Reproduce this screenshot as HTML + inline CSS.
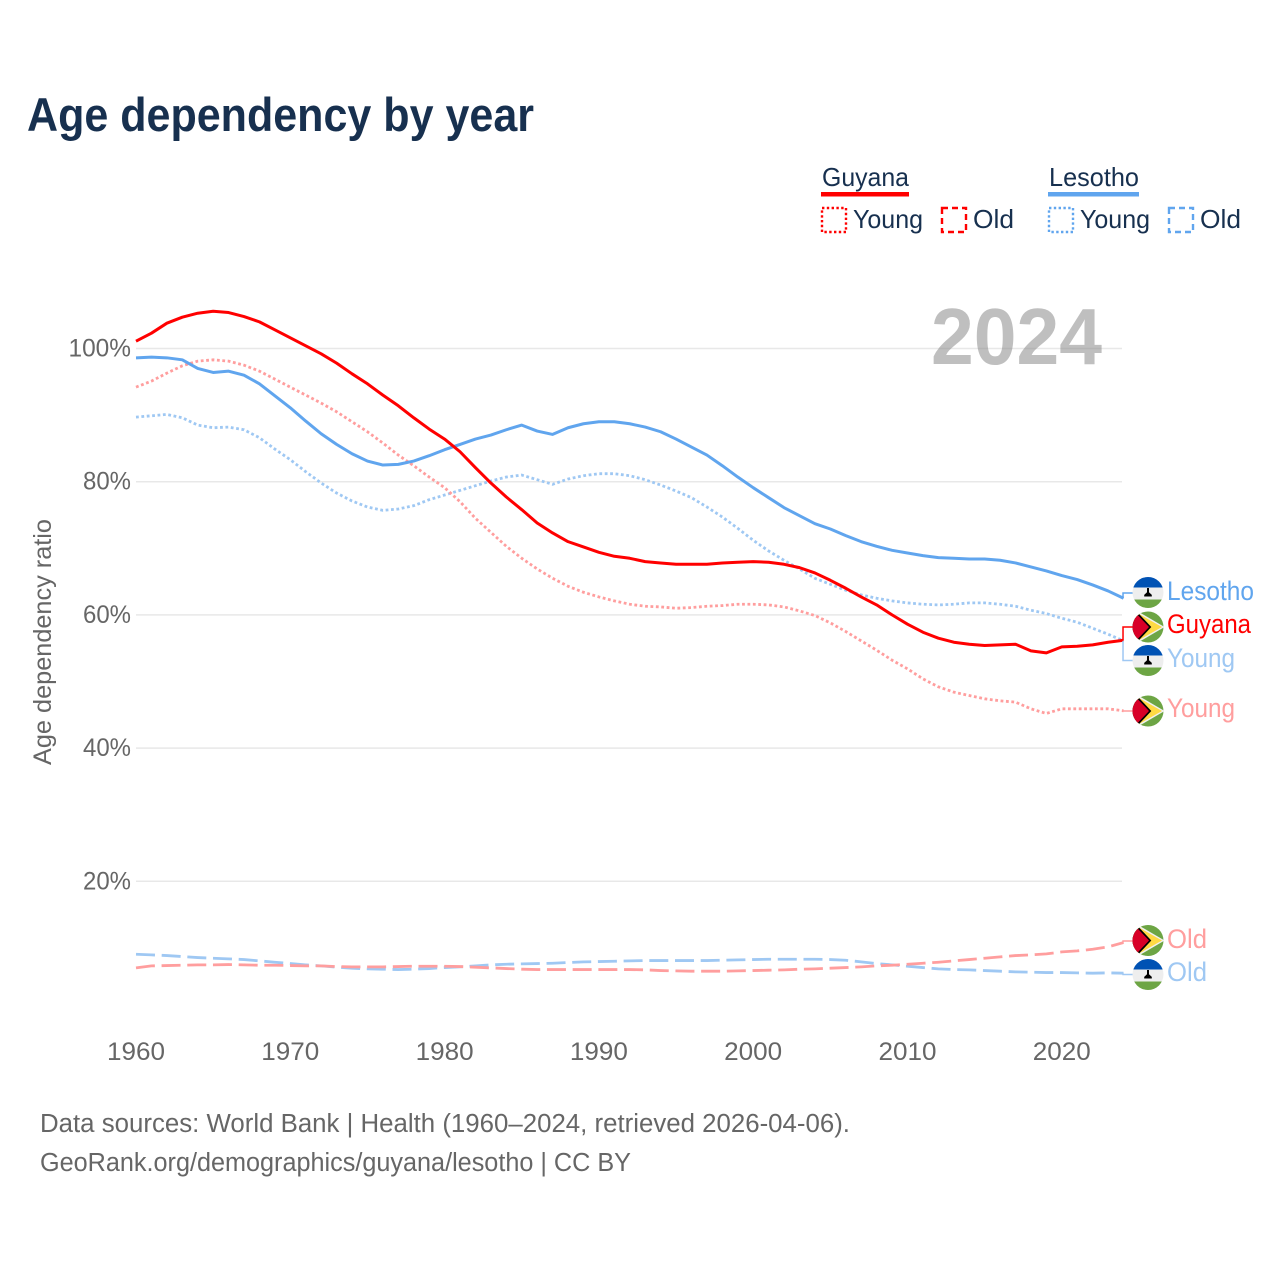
<!DOCTYPE html>
<html lang="en">
<head>
<meta charset="utf-8">
<title>Age dependency by year</title>
<style>
html,body{margin:0;padding:0;background:#fff;}
svg{display:block;font-family:"Liberation Sans",sans-serif;}
</style>
</head>
<body>
<svg id="chart" xmlns="http://www.w3.org/2000/svg" width="1280" height="1280" viewBox="0 0 1280 1280">
<defs>
<clipPath id="flag-clip"><circle cx="0" cy="0" r="15.5"/></clipPath>
<g id="flag-lesotho" clip-path="url(#flag-clip)">
<rect x="-16" y="-16" width="32" height="32" fill="#eeeeee"/>
<rect x="-16" y="-16" width="32" height="11" fill="#0052b4"/>
<rect x="-16" y="7" width="32" height="9" fill="#6da544"/>
<path d="M-1 -4.5h2v4.3l2.8 2.6v1.6h-7.6v-1.6l2.8-2.6z" fill="#000"/>
</g>
<g id="flag-guyana" clip-path="url(#flag-clip)">
<rect x="-16" y="-16" width="32" height="32" fill="#6da544"/>
<path d="M-16 -19L16.5 0L-16 19z" fill="#f0f0f0"/>
<path d="M-16 -17L14 0L-16 17z" fill="#ffda44"/>
<path d="M-16 -20.5L3.3 0L-16 20.5z" fill="#000"/>
<path d="M-16 -18L1 0L-16 18z" fill="#d80027"/>
</g>
</defs>

<text x="27" y="131" font-size="47.5" font-weight="700" fill="#17304f" textLength="507" lengthAdjust="spacingAndGlyphs">Age dependency by year</text>

<g font-size="26" fill="#17304f">
<text x="822" y="186" textLength="87" lengthAdjust="spacingAndGlyphs">Guyana</text>
<rect x="821" y="192" width="88" height="4.5" fill="#ff0000"/>
<text x="1049" y="186" textLength="90" lengthAdjust="spacingAndGlyphs">Lesotho</text>
<rect x="1048" y="192" width="91" height="4.5" fill="#60a5ee"/>
<rect x="822" y="208" width="24" height="24" fill="none" stroke="#ff0000" stroke-width="2.4" stroke-dasharray="2.4,2.4"/>
<text x="853" y="228" textLength="70" lengthAdjust="spacingAndGlyphs">Young</text>
<rect x="942" y="208" width="24" height="24" fill="none" stroke="#ff0000" stroke-width="2.4" stroke-dasharray="6,4"/>
<text x="973" y="228" textLength="41" lengthAdjust="spacingAndGlyphs">Old</text>
<rect x="1049" y="208" width="24" height="24" fill="none" stroke="#60a5ee" stroke-width="2.4" stroke-dasharray="2.4,2.4"/>
<text x="1080" y="228" textLength="70" lengthAdjust="spacingAndGlyphs">Young</text>
<rect x="1169" y="208" width="24" height="24" fill="none" stroke="#60a5ee" stroke-width="2.4" stroke-dasharray="6,4"/>
<text x="1200" y="228" textLength="41" lengthAdjust="spacingAndGlyphs">Old</text>
</g>

<g id="grid"></g>
<g id="yticks" font-size="25" fill="#666666"></g>
<g id="xticks" font-size="25" fill="#666666"></g>

<text transform="translate(51,765) rotate(-90)" font-size="25" fill="#666666" textLength="246" lengthAdjust="spacingAndGlyphs">Age dependency ratio</text>
<text x="931" y="364" font-size="80" font-weight="700" fill="#808080" fill-opacity="0.5" textLength="171" lengthAdjust="spacingAndGlyphs">2024</text>

<g id="series"></g>
<g id="connectors"></g>

<g font-size="26.5">
<use href="#flag-lesotho" x="1148" y="592.5"/>
<text x="1167" y="600" fill="#60a5ee" textLength="87" lengthAdjust="spacingAndGlyphs">Lesotho</text>
<use href="#flag-guyana" x="1148" y="627"/>
<text x="1167" y="633" fill="#ff0000" textLength="84" lengthAdjust="spacingAndGlyphs">Guyana</text>
<use href="#flag-lesotho" x="1148" y="660.5"/>
<text x="1167" y="667" fill="#9fc8f3" textLength="68" lengthAdjust="spacingAndGlyphs">Young</text>
<use href="#flag-guyana" x="1148" y="711"/>
<text x="1167" y="717" fill="#ff9e9e" textLength="68" lengthAdjust="spacingAndGlyphs">Young</text>
<use href="#flag-guyana" x="1148" y="940.5"/>
<text x="1167" y="948" fill="#ff9e9e" textLength="40" lengthAdjust="spacingAndGlyphs">Old</text>
<use href="#flag-lesotho" x="1148" y="974.5"/>
<text x="1167" y="981" fill="#9fc8f3" textLength="40" lengthAdjust="spacingAndGlyphs">Old</text>
</g>

<g font-size="25.5" fill="#666666">
<text x="40" y="1132" textLength="810" lengthAdjust="spacingAndGlyphs">Data sources: World Bank | Health (1960–2024, retrieved 2026-04-06).</text>
<text x="40" y="1171" textLength="591" lengthAdjust="spacingAndGlyphs">GeoRank.org/demographics/guyana/lesotho | CC BY</text>
</g>
</svg>

<script>
const startYear = 1960;
const xTickYears = [1960, 1970, 1980, 1990, 2000, 2010, 2020];
const yTickValues = [100, 80, 60, 40, 20];

const guyanaTotal = [101.1,102.3,103.8,104.7,105.3,105.6,105.4,104.8,104.0,102.8,101.6,100.4,99.2,97.8,96.2,94.7,93.0,91.4,89.6,87.9,86.4,84.5,82.1,79.8,77.7,75.8,73.8,72.3,71.0,70.2,69.4,68.8,68.5,68.0,67.8,67.6,67.6,67.6,67.8,67.9,68.0,67.9,67.6,67.1,66.3,65.2,64.0,62.7,61.5,60.0,58.6,57.4,56.5,55.9,55.6,55.4,55.5,55.6,54.6,54.3,55.2,55.3,55.5,55.9,56.2];
const lesothoTotal = [98.6,98.7,98.6,98.3,97.0,96.4,96.6,96.0,94.7,92.9,91.1,89.1,87.2,85.6,84.2,83.1,82.5,82.6,83.1,83.9,84.8,85.6,86.4,87.0,87.8,88.5,87.6,87.1,88.1,88.7,89.0,89.0,88.7,88.2,87.5,86.4,85.2,84.0,82.4,80.7,79.1,77.6,76.1,74.9,73.7,72.9,71.9,71.0,70.3,69.7,69.3,68.9,68.6,68.5,68.4,68.4,68.2,67.8,67.2,66.6,65.9,65.3,64.5,63.6,62.5];
const guyanaYoung = [94.2,95.1,96.3,97.4,98.1,98.3,98.1,97.5,96.6,95.4,94.2,93.0,91.8,90.5,89.0,87.5,85.8,84.0,82.4,80.7,79.1,77.0,74.5,72.4,70.3,68.5,66.9,65.5,64.3,63.4,62.7,62.1,61.6,61.3,61.2,61.0,61.1,61.3,61.4,61.6,61.6,61.5,61.2,60.6,59.9,58.8,57.5,56.1,54.7,53.2,51.9,50.4,49.2,48.4,47.9,47.4,47.1,46.9,45.9,45.2,45.9,45.9,45.9,45.9,45.6];
const lesothoYoung = [89.7,89.9,90.1,89.6,88.5,88.1,88.2,87.8,86.6,84.9,83.3,81.5,79.8,78.3,77.1,76.2,75.7,75.9,76.4,77.3,78.0,78.7,79.4,80.1,80.7,81.0,80.3,79.6,80.4,80.9,81.2,81.2,80.9,80.3,79.5,78.6,77.6,76.2,74.7,73.0,71.2,69.6,68.2,66.9,65.5,64.6,63.7,63.0,62.5,62.1,61.8,61.6,61.5,61.6,61.8,61.8,61.6,61.3,60.7,60.2,59.5,58.9,58.0,57.1,56.1];
const guyanaOld = [7.0,7.3,7.35,7.4,7.45,7.45,7.5,7.45,7.4,7.4,7.35,7.3,7.3,7.2,7.15,7.15,7.15,7.2,7.25,7.25,7.25,7.2,7.1,7.0,6.9,6.8,6.75,6.75,6.75,6.75,6.75,6.75,6.75,6.7,6.6,6.55,6.5,6.5,6.5,6.55,6.6,6.65,6.7,6.8,6.85,6.95,7.05,7.15,7.3,7.4,7.55,7.7,7.85,8.05,8.25,8.45,8.65,8.85,8.95,9.1,9.4,9.55,9.8,10.15,10.8];
const lesothoOld = [9.05,8.95,8.85,8.7,8.55,8.45,8.35,8.25,8.05,7.85,7.65,7.45,7.3,7.1,6.95,6.85,6.8,6.75,6.8,6.9,7.05,7.15,7.3,7.45,7.55,7.6,7.65,7.7,7.8,7.9,7.95,8.0,8.05,8.1,8.1,8.1,8.1,8.1,8.15,8.2,8.25,8.3,8.3,8.3,8.3,8.25,8.15,7.9,7.65,7.45,7.25,7.05,6.85,6.75,6.7,6.6,6.5,6.4,6.35,6.3,6.3,6.25,6.2,6.25,6.2];

const NS = 'http://www.w3.org/2000/svg';
function xScale(year) { return 136 + (year - 1960) * 15.43; }
function yScale(value) { return 1014.5 - value * 6.66; }
function make(tag, attrs, parent) {
  const el = document.createElementNS(NS, tag);
  for (const k in attrs) el.setAttribute(k, attrs[k]);
  parent.appendChild(el);
  return el;
}

const gridG = document.getElementById('grid');
const yG = document.getElementById('yticks');
yTickValues.forEach(function (v) {
  const line = make('line', { x1: 136, x2: 1122, y1: yScale(v), y2: yScale(v), stroke: '#e8e8e8', 'stroke-width': 1.5 }, gridG);
  
  
  const label = v + '%';
  const t = make('text', { x: 131, y: yScale(v) + 8, 'text-anchor': 'end', textLength: (label.length - 1) * 14.5 + 19, lengthAdjust: 'spacingAndGlyphs' }, yG);
  t.textContent = label;
  
  
});

const xG = document.getElementById('xticks');
xTickYears.forEach(function (yr) {
  const t = make('text', { x: xScale(yr), y: 1060, 'text-anchor': 'middle', textLength: 58, lengthAdjust: 'spacingAndGlyphs' }, xG);
  t.textContent = String(yr);
  
  
});

function drawLine(values, color, width, dash, name) {
  const d = values.map(function (v, i) {
    return (i ? 'L' : 'M') + xScale(startYear + i).toFixed(2) + ' ' + yScale(v).toFixed(2);
  }).join('');
  const attrs = { d: d, fill: 'none', stroke: color, 'stroke-width': width, 'stroke-linejoin': 'round' };
  if (dash) attrs['stroke-dasharray'] = dash;
  const p = make('path', attrs, document.getElementById('series'));
  
  
}
function drawConnector(values, color, targetY, name) {
  const endX = xScale(startYear + values.length - 1) - 0.5;
  const endY = yScale(values[values.length - 1]);
  const d = 'M' + endX.toFixed(2) + ' ' + endY.toFixed(2) + 'L' + endX.toFixed(2) + ' ' + targetY + 'L1133 ' + targetY;
  const p = make('path', { d: d, fill: 'none', stroke: color, 'stroke-width': 1.5 }, document.getElementById('connectors'));
  
  
}

const dotted = '2.8,2.6';
const dashed = '19,6.7';
drawLine(lesothoOld, '#9fc8f3', 2.8, dashed, 'line-lesotho-old');
drawLine(guyanaOld, '#ff9e9e', 2.8, dashed, 'line-guyana-old');
drawLine(lesothoYoung, '#9fc8f3', 2.8, dotted, 'line-lesotho-young');
drawLine(guyanaYoung, '#ff9e9e', 2.8, dotted, 'line-guyana-young');
drawLine(lesothoTotal, '#60a5ee', 3, null, 'line-lesotho-total');
drawLine(guyanaTotal, '#ff0000', 3, null, 'line-guyana-total');

drawConnector(lesothoTotal, '#60a5ee', 593, 'connector-lesotho-total');
drawConnector(lesothoYoung, '#9fc8f3', 660.5, 'connector-lesotho-young');
drawConnector(guyanaTotal, '#ff0000', 627, 'connector-guyana-total');
drawConnector(guyanaYoung, '#ff9e9e', 711, 'connector-guyana-young');
drawConnector(guyanaOld, '#ff9e9e', 941, 'connector-guyana-old');
drawConnector(lesothoOld, '#9fc8f3', 974.5, 'connector-lesotho-old');
</script>
</body>
</html>
